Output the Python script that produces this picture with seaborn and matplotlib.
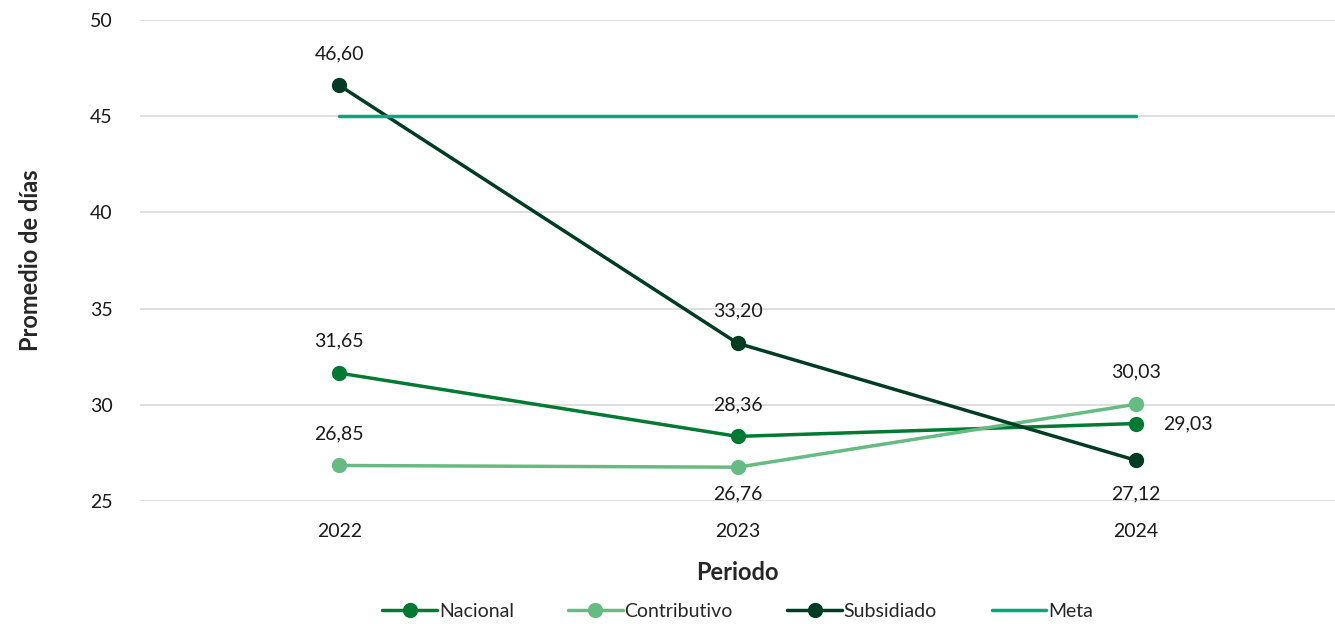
import pandas as pd
import seaborn as sns
import matplotlib.pyplot as plt

# Data
periodos = ["2022", "2023", "2024"]
nacional = [31.65, 28.36, 29.03]
contributivo = [26.85, 26.76, 30.03]
subsidiado = [46.60, 33.20, 27.12]
meta = [45, 45, 45]

series = {"Nacional": nacional, "Contributivo": contributivo,
          "Subsidiado": subsidiado, "Meta": meta}
colores = {"Nacional": "#007A33", "Contributivo": "#66BB83",
           "Subsidiado": "#003B24", "Meta": "#00A97A"}

rows = []
for name, vals in series.items():
    for i, (p, v) in enumerate(zip(periodos, vals)):
        rows.append({"Periodo": p, "x": i, "valor": v, "serie": name})
df = pd.DataFrame(rows)

sns.set_style("white")
plt.rcParams['font.family'] = ['Lato', 'DejaVu Sans']

fig = plt.figure(figsize=(13.35, 6.24), dpi=100)
ax = fig.add_axes([0.105, 0.197, 0.895, 0.771])

for name in series:
    d = df[df["serie"] == name]
    sns.lineplot(data=d, x="x", y="valor", ax=ax, color=colores[name],
                 linewidth=2.5, marker=None if name == "Meta" else "o",
                 markersize=11, markeredgewidth=0, label=name, zorder=3)

# Data labels (offsets in points)
offsets = {
    "Nacional": [(0, 23, "center"), (0, 23, "center"), (20, 0, "left")],
    "Contributivo": [(0, 23, "center"), (0, -19, "center"), (0, 23, "center")],
    "Subsidiado": [(0, 23, "center"), (0, 23, "center"), (0, -24, "center")],
}
for name, offs in offsets.items():
    for i, (v, (dx, dy, ha)) in enumerate(zip(series[name], offs)):
        ax.annotate(f"{v:.2f}".replace(".", ","), (i, v), xytext=(dx, dy),
                    textcoords="offset points", ha=ha, va="center",
                    fontsize=14, color="#1a1a1a")

ax.set_xlim(-0.5, 2.5)
ax.set_ylim(25, 50)
ax.set_xticks(range(len(periodos)))
ax.set_xticklabels(periodos)
ax.set_yticks([25, 30, 35, 40, 45, 50])
ax.tick_params(axis="both", labelsize=14, colors="#1a1a1a", length=0)
ax.tick_params(axis="x", pad=16)
ax.tick_params(axis="y", pad=20)
ax.yaxis.grid(True, color="#d9d9d9", linewidth=1.2)
ax.set_axisbelow(True)
for s in ax.spines.values():
    s.set_visible(False)

ax.set_xlabel("Periodo", fontsize=17, fontweight="bold", labelpad=15)
ax.set_ylabel("Promedio de días", fontsize=17, fontweight="bold", labelpad=34)

ax.legend(loc="center", bbox_to_anchor=(0.5, -0.229), ncol=4,
          frameon=False, fontsize=14, handlelength=2.8, handletextpad=0.1,
          columnspacing=2.8)

fig.savefig("out.png", dpi=100)
